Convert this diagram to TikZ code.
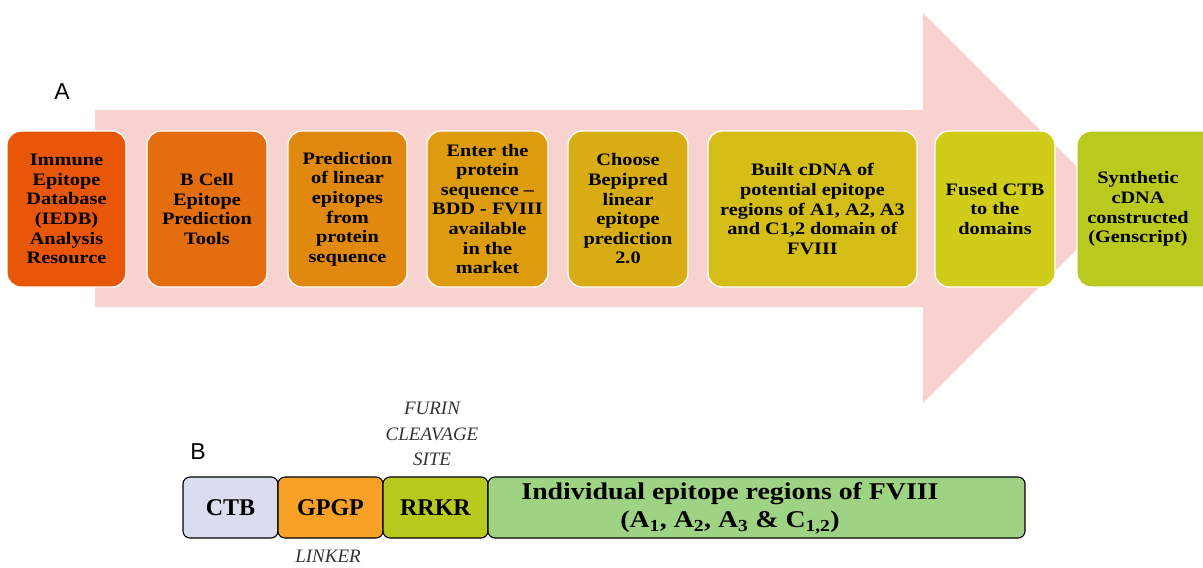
\documentclass[tikz,border=0pt]{standalone}
\usepackage{fontspec}
\setmainfont{Liberation Serif}
\setsansfont{Liberation Sans}
\newfontfamily\widefont{Liberation Serif}[FakeStretch=1.16, Ligatures=TeX]
\definecolor{arrowpink}{HTML}{F8D2CE}
\definecolor{c1}{HTML}{E8560A}
\definecolor{c2}{HTML}{E46E0E}
\definecolor{c3}{HTML}{E1880E}
\definecolor{c4}{HTML}{DD9C0E}
\definecolor{c5}{HTML}{D8AD13}
\definecolor{c6}{HTML}{D4BD16}
\definecolor{c7}{HTML}{CFCC1A}
\definecolor{c8}{HTML}{B9C91E}
\definecolor{ctbc}{HTML}{D9DDEF}
\definecolor{gpgpc}{HTML}{F9A127}
\definecolor{rrkrc}{HTML}{B8C91E}
\definecolor{epic}{HTML}{9FD384}
\tikzset{
  stepfont/.style={font=\widefont\bfseries\fontsize{17.5}{19.6}\selectfont},
  stepbox/.style={draw=white, line width=1.3pt, rounded corners=14pt, align=center,
    inner sep=0pt, minimum height=156pt, stepfont},
  partbox/.style={draw=black, line width=1.1pt, rounded corners=7pt, inner sep=0pt,
    minimum height=61pt, font=\bfseries\fontsize{24}{28}\selectfont},
  note/.style={font=\itshape\fontsize{19}{25.5}\selectfont, align=center, text=black!80},
  letter/.style={font=\sffamily\fontsize{23}{26}\selectfont}
}
\begin{document}
\begin{tikzpicture}[x=1pt,y=-1pt]
\useasboundingbox (0,0) rectangle (1203,568);
\clip (0,0) rectangle (1203,568);
% big arrow
\fill[arrowpink] (95,110) -- (923,110) -- (923,13) -- (1118,208) -- (923,403) -- (923,307) -- (95,307) -- cycle;
\node[letter] (la) at (62,92) {A};
% steps
\node[stepbox, fill=c1, minimum width=119pt] (s1) at (66.5,209) {Immune\\Epitope\\Database\\(IEDB)\\Analysis\\Resource};
\node[stepbox, fill=c2, minimum width=120pt] (s2) at (207,209) {B Cell\\Epitope\\Prediction\\Tools};
\node[stepbox, fill=c3, minimum width=119pt] (s3) at (347.5,209) {Prediction\\of linear\\epitopes\\from\\protein\\sequence};
\node[stepbox, fill=c4, minimum width=121pt] (s4) at (487.5,209) {Enter the\\protein\\sequence \textendash\\BDD - FVIII\\available\\in the\\market};
\node[stepbox, fill=c5, minimum width=120pt] (s5) at (628,209) {Choose\\Bepipred\\linear\\epitope\\prediction\\2.0};
\node[stepbox, fill=c6, minimum width=209pt] (s6) at (812.5,209) {Built cDNA of\\potential epitope\\regions of A1, A2, A3\\and C1,2 domain of\\FVIII};
\node[stepbox, fill=c7, minimum width=120pt] (s7) at (995,209) {Fused CTB\\to the\\domains};
\node[stepbox, fill=c8, minimum width=140pt] (s8) at (1147,209) {};
\node[stepfont, align=center] (s8t) at (1138,209) {Synthetic\\cDNA\\constructed\\(Genscript)};
% part B
\node[letter] (lb) at (198,452) {B};
\node[partbox, fill=ctbc, minimum width=95pt] (ctb) at (230.5,507.5) {CTB};
\node[partbox, fill=gpgpc, minimum width=105pt] (gpgp) at (330.5,507.5) {GPGP};
\node[partbox, fill=rrkrc, minimum width=105pt] (rrkr) at (435.5,507.5) {RRKR};
\node[partbox, fill=epic, minimum width=537pt] (epi) at (756.5,507.5) {};
\node[font=\widefont\bfseries\fontsize{24}{28}\selectfont, align=center] (epit) at (730,508) {Individual epitope regions of FVIII\\(A\textsubscript{1}, A\textsubscript{2}, A\textsubscript{3} \& C\textsubscript{1,2})};
\node[note] (furin) at (432,434) {FURIN\\CLEAVAGE\\SITE};
\node[note] (linker) at (328,556) {LINKER};
\end{tikzpicture}
\end{document}
